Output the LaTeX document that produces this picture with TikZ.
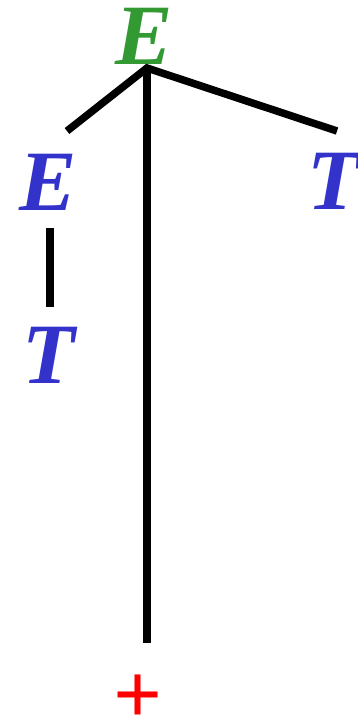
\documentclass[tikz,border=0pt]{standalone}
\usepackage{fontspec}
\setmainfont{Liberation Serif}
\begin{document}
\begin{tikzpicture}[x=1pt,y=-1pt,
  lab/.style={inner sep=0pt, font=\fontsize{86}{86}\selectfont\bfseries\itshape},
  edge/.style={line width=7.5pt, black}]
\useasboundingbox (0,0) rectangle (357,721);
\definecolor{tgreen}{RGB}{51,153,51}
\definecolor{tblue}{RGB}{51,51,204}
\node[lab, text=tgreen] (E0) at (144,36) {E};
\node[lab, text=tblue] (E1) at (48,182) {E};
\node[lab, text=tblue] (T1) at (334,181) {T};
\node[lab, text=tblue] (T2) at (49,355) {T};
\node[inner sep=0pt, text=red, font=\fontsize{86}{86}\selectfont\bfseries] (P) at (138,699) {+};
\coordinate (j) at (147,68);
\coordinate (a) at (67,131);
\coordinate (b) at (337,131);
\coordinate (c) at (147,643);
\coordinate (d1) at (50,228);
\coordinate (d2) at (50,307);
\draw[edge, line join=miter] (a) -- (j) -- (b);
\draw[edge] (j) -- (c);
\draw[edge] (d1) -- (d2);
\end{tikzpicture}
\end{document}
